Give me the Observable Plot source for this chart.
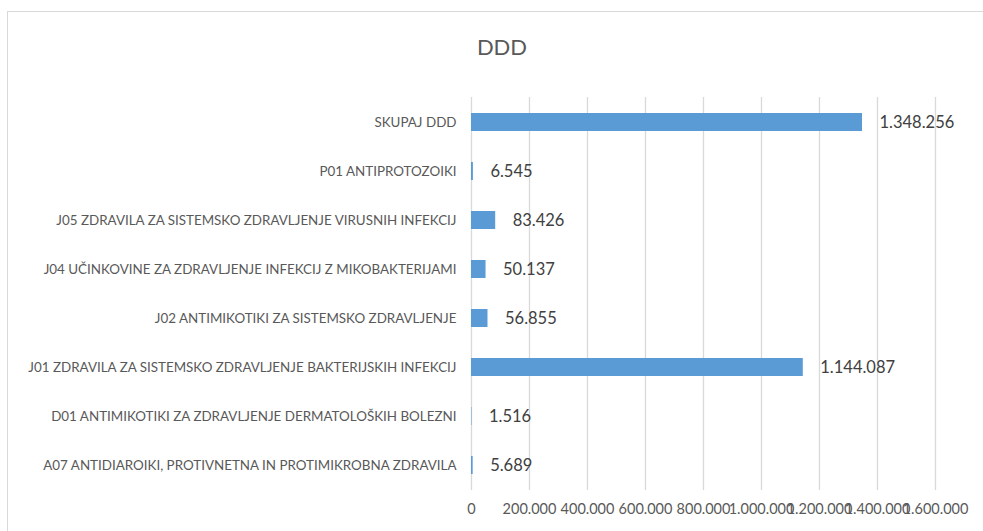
<!DOCTYPE html>
<html>
<head>
<meta charset="utf-8">
<script src="https://cdn.jsdelivr.net/npm/d3@7"></script>
<script src="https://cdn.jsdelivr.net/npm/@observablehq/plot@0.6"></script>
<style>
  body { margin:0; background:#fff; width:983px; height:531px; overflow:hidden; position:relative; font-family: Lato, "Open Sans", sans-serif; }
  #frame { position:absolute; left:7px; top:11px; width:1100px; height:600px; border:1.5px solid #d9d9d9; box-sizing:border-box; }
  #title { position:absolute; left:0; width:1004px; top:33px; line-height:28px; text-align:center; font-size:22px; color:#595959; }
  #chart { position:absolute; left:0; top:80px; }
</style>
</head>
<body>
<div id="frame"></div>
<div id="title">DDD</div>
<div id="chart"></div>
<script>
const categories = [
  "SKUPAJ DDD",
  "P01 ANTIPROTOZOIKI",
  "J05 ZDRAVILA ZA SISTEMSKO ZDRAVLJENJE VIRUSNIH INFEKCIJ",
  "J04 UČINKOVINE ZA ZDRAVLJENJE INFEKCIJ Z MIKOBAKTERIJAMI",
  "J02 ANTIMIKOTIKI ZA SISTEMSKO ZDRAVLJENJE",
  "J01 ZDRAVILA ZA SISTEMSKO ZDRAVLJENJE BAKTERIJSKIH INFEKCIJ",
  "D01 ANTIMIKOTIKI ZA ZDRAVLJENJE DERMATOLOŠKIH BOLEZNI",
  "A07 ANTIDIAROIKI, PROTIVNETNA IN PROTIMIKROBNA ZDRAVILA"
];
const values = [1348256, 6545, 83426, 50137, 56855, 1144087, 1516, 5689];
const xTicks = [0, 200000, 400000, 600000, 800000, 1000000, 1200000, 1400000, 1600000];

const fmt = d3.formatLocale({decimal: ",", thousands: ".", grouping: [3], currency: ["", ""]}).format(",d");
const data = categories.map((c, i) => ({cat: c, value: values[i]}));

const chart = Plot.plot({
  width: 983,
  height: 451,
  marginLeft: 471,
  marginRight: 48,
  marginTop: 17,
  marginBottom: 41,
  style: {fontFamily: 'Lato, "Open Sans", sans-serif', background: "transparent"},
  x: {domain: [0, 1600000]},
  y: {domain: categories, paddingInner: 0.63, paddingOuter: 0.315},
  marks: [
    Plot.gridX(xTicks, {stroke: "#d9d9d9", strokeOpacity: 1, strokeWidth: 1.3}),
    Plot.barX(data, {x: "value", y: "cat", fill: "#5B9BD5"}),
    Plot.text(data, {x: "value", y: "cat", text: d => fmt(d.value), dx: 17, textAnchor: "start", fontSize: 16.5, fill: "#404040"}),
    Plot.axisX({ticks: xTicks, tickSize: 0, tickPadding: 13, tickFormat: fmt, label: null, fontSize: 14.5, fill: "#595959"}),
    Plot.axisY({tickSize: 0, tickPadding: 15, label: null, fontSize: 13.4, fill: "#595959"})
  ]
});
document.getElementById("chart").appendChild(chart);
</script>
</body>
</html>
